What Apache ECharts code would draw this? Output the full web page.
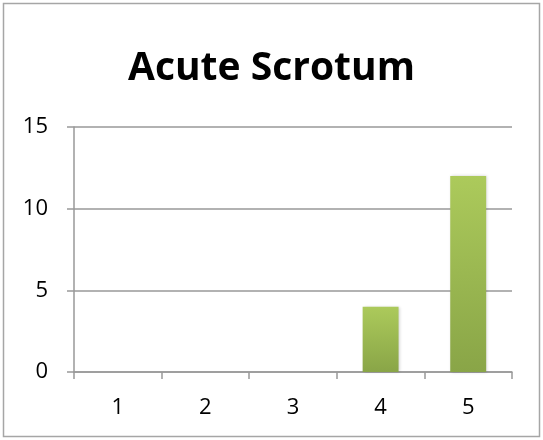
<!DOCTYPE html>
<html>
<head>
<meta charset="utf-8">
<script src="https://cdn.jsdelivr.net/npm/echarts@6/dist/echarts.min.js"></script>
<style>
  html, body { margin: 0; padding: 0; background: #fff; }
  #chart { width: 543px; height: 440px; }
</style>
</head>
<body>
<div id="chart"></div>
<script>
var categories = ['1', '2', '3', '4', '5'];
var values = [0, 0, 0, 4, 12];
var yTicks = [0, 5, 10, 15];

var chart = echarts.init(document.getElementById('chart'));
var option = {
    animation: false,
    title: {
        text: 'Acute Scrotum',
        left: 'center',
        top: 44,
        textStyle: {
            fontFamily: 'Open Sans',
            fontWeight: 'bold',
            fontSize: 39,
            color: '#000'
        }
    },
    graphic: [{
        type: 'rect',
        shape: { x: 3.5, y: 3.5, width: 536, height: 433 },
        style: { fill: 'none', stroke: '#a6a6a6', lineWidth: 1.5 },
        silent: true
    }],
    grid: { left: 74, right: 31, top: 127, bottom: 68 },
    xAxis: {
        type: 'category',
        data: categories,
        axisLine: { lineStyle: { color: '#999', width: 1.5 } },
        axisTick: { show: true, length: 7, lineStyle: { color: '#999', width: 1.5 } },
        axisLabel: { fontFamily: 'Open Sans', fontSize: 22, color: '#000', margin: 25 }
    },
    yAxis: {
        type: 'value',
        min: yTicks[0],
        max: yTicks[yTicks.length - 1],
        interval: 5,
        axisLine: { show: true, lineStyle: { color: '#999', width: 1.5 } },
        axisTick: { show: true, length: 7, lineStyle: { color: '#999', width: 1.5 } },
        splitLine: { lineStyle: { color: '#999', width: 1.5 } },
        axisLabel: { fontFamily: 'Open Sans', fontSize: 22, color: '#000', margin: 26 }
    },
    series: [{
        type: 'bar',
        data: values,
        barWidth: '41%',
        itemStyle: {
            color: new echarts.graphic.LinearGradient(0, 0, 0, 1, [
                { offset: 0, color: '#acca5b' },
                { offset: 1, color: '#89a547' }
            ]),
            shadowColor: 'rgba(0,0,0,0.2)',
            shadowBlur: 3,
            shadowOffsetX: 1
        }
    }]
};
chart.setOption(option);
window.onresize = chart.resize;
</script>
</body>
</html>
